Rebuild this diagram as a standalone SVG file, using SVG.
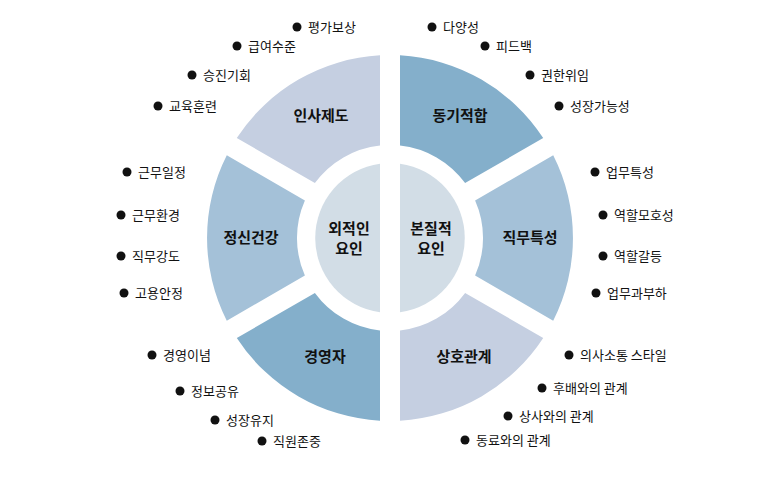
<svg xmlns="http://www.w3.org/2000/svg" width="780" height="478" viewBox="0 0 780 478">
<style>
text{font-family:"Noto Sans CJK KR","Noto Sans",sans-serif;fill:#111}
.t{font-size:15px;font-weight:bold;text-anchor:middle}
.b{font-size:13px}
.c1{fill:#c5cfe1}.c2{fill:#84afcb}.c3{fill:#a4c1d8}.in{fill:#d2dde6}
</style>
<defs><path id="sec" d="M400,55.3 A183,183 0 0 1 543.2,138 L465.1,183.1 A93,93 0 0 0 400,145.5 Z"/></defs>
<rect width="780" height="478" fill="#fff"/>
<g id="n-dongi"><use href="#sec" class="c2"/><text class="t" x="460" y="121">동기적합</text></g>
<g id="n-jikmu"><use href="#sec" class="c3" transform="rotate(60 390 238)"/><text class="t" x="530" y="243">직무특성</text></g>
<g id="n-sangho"><use href="#sec" class="c1" transform="rotate(120 390 238)"/><text class="t" x="464" y="362">상호관계</text></g>
<g id="n-gyeong"><use href="#sec" class="c2" transform="rotate(180 390 238)"/><text class="t" x="325" y="362">경영자</text></g>
<g id="n-jeongsin"><use href="#sec" class="c3" transform="rotate(240 390 238)"/><text class="t" x="251" y="243">정신건강</text></g>
<g id="n-insa"><use href="#sec" class="c1" transform="rotate(300 390 238)"/><text class="t" x="321" y="121">인사제도</text></g>
<g id="n-ext"><path class="in" d="M380,163.7 A75,75 0 0 0 380,312.3 Z"/><text class="t" x="349" y="234">외적인</text><text class="t" x="349" y="254">요인</text></g>
<g id="n-int"><path class="in" d="M400,163.7 A75,75 0 0 1 400,312.3 Z"/><text class="t" x="431" y="234">본질적</text><text class="t" x="431" y="254">요인</text></g>
<g id="connectors"></g>
<g id="bullets" fill="#111">
<circle cx="297" cy="27" r="4.5"/><text class="b" x="308" y="32">평가보상</text>
<circle cx="237" cy="46" r="4.5"/><text class="b" x="248" y="51">급여수준</text>
<circle cx="192" cy="75" r="4.5"/><text class="b" x="203" y="80">승진기회</text>
<circle cx="158" cy="106" r="4.5"/><text class="b" x="169" y="111">교육훈련</text>
<circle cx="127" cy="172" r="4.5"/><text class="b" x="138" y="177">근무일정</text>
<circle cx="121" cy="215" r="4.5"/><text class="b" x="132" y="220">근무환경</text>
<circle cx="121" cy="256" r="4.5"/><text class="b" x="132" y="261">직무강도</text>
<circle cx="124" cy="293" r="4.5"/><text class="b" x="135" y="298">고용안정</text>
<circle cx="152" cy="355" r="4.5"/><text class="b" x="163" y="360">경영이념</text>
<circle cx="180" cy="391" r="4.5"/><text class="b" x="191" y="396">정보공유</text>
<circle cx="215" cy="420" r="4.5"/><text class="b" x="226" y="425">성장유지</text>
<circle cx="262" cy="441" r="4.5"/><text class="b" x="273" y="446">직원존중</text>
<circle cx="432" cy="27" r="4.5"/><text class="b" x="443" y="32">다양성</text>
<circle cx="485" cy="46" r="4.5"/><text class="b" x="496" y="51">피드백</text>
<circle cx="530" cy="75" r="4.5"/><text class="b" x="541" y="80">권한위임</text>
<circle cx="559" cy="106" r="4.5"/><text class="b" x="570" y="111">성장가능성</text>
<circle cx="595" cy="172" r="4.5"/><text class="b" x="606" y="177">업무특성</text>
<circle cx="603" cy="215" r="4.5"/><text class="b" x="614" y="220">역할모호성</text>
<circle cx="603" cy="256" r="4.5"/><text class="b" x="614" y="261">역할갈등</text>
<circle cx="596" cy="293" r="4.5"/><text class="b" x="607" y="298">업무과부하</text>
<circle cx="569" cy="355" r="4.5"/><text class="b" x="580" y="360">의사소통 스타일</text>
<circle cx="542" cy="388" r="4.5"/><text class="b" x="553" y="393">후배와의 관계</text>
<circle cx="508" cy="416" r="4.5"/><text class="b" x="519" y="421">상사와의 관계</text>
<circle cx="465" cy="440" r="4.5"/><text class="b" x="476" y="445">동료와의 관계</text>
</g>
</svg>
